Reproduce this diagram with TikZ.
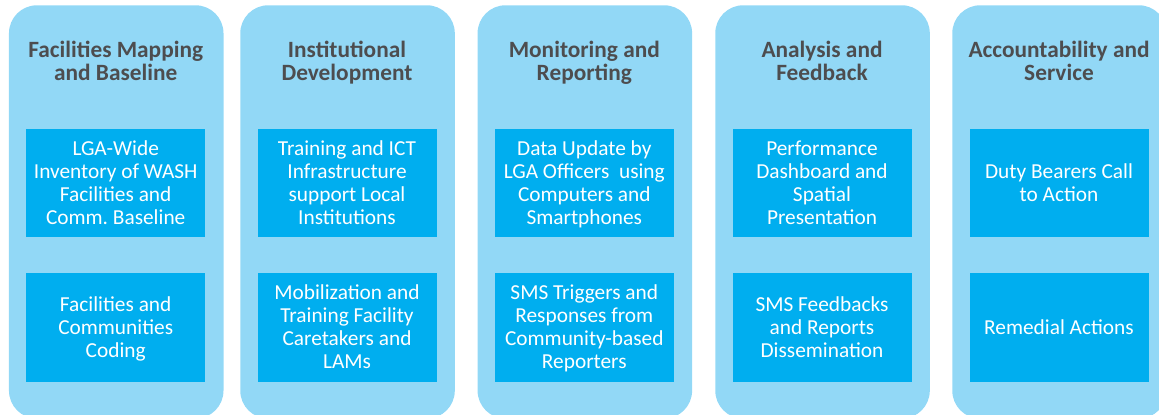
\documentclass[tikz,border=0pt]{standalone}
\usepackage{fontspec}
\setmainfont{Carlito}
\usepackage{xcolor}
\usetikzlibrary{positioning}

\definecolor{laneblue}{HTML}{92D8F6}
\definecolor{boxcyan}{HTML}{00AEEF}
\definecolor{headgray}{HTML}{4D4D4F}

\begin{document}
\frenchspacing
\begin{tikzpicture}[
  x=0.75pt, y=-0.75pt,
  lane/.style={fill=laneblue, rounded corners=21pt, anchor=north west,
    minimum width=160.9pt, minimum height=310pt, inner sep=0pt},
  % struts keep every text block the same height, whatever its letters
  head/.style={text=headgray, align=center, font=\fontsize{17.5}{17.25}\selectfont\bfseries,
    execute at begin node=\strut, execute at end node=\strut},
  item/.style={fill=boxcyan, text=white, align=center, inner sep=0pt,
    minimum width=134.25pt, minimum height=81.5pt,
    font=\fontsize{16}{17.25}\selectfont, text depth=0.7pt}
]
  \clip (0,0) rectangle (1159,414);

  % one lane per stage: heading, then two activity boxes
  \foreach \x/\n/\h/\a/\b in {
    8.7/1/{Facilities Mapping\\and Baseline}/{LGA-Wide\\Inventory of WASH\\Facilities and\\Comm. Baseline}/{Facilities and\\Communities\\Coding},
    240/2/{Institutional\\Development}/{Training and ICT\\Infrastructure\\support Local\\Institutions}/{Mobilization and\\Training Facility\\Caretakers and\\LAMs},
    477.3/3/{Monitoring and\\Reporting}/{Data Update by\\LGA Officers\ \ using\\Computers and\\Smartphones}/{SMS Triggers and\\Responses from\\Community-based\\Reporters},
    715/4/{Analysis and\\Feedback}/{Performance\\Dashboard and\\Spatial\\Presentation}/{SMS Feedbacks\\and Reports\\Dissemination},
    952/5/{Accountability and\\Service}/{Duty Bearers Call\\to Action}/{Remedial Actions}}
  {
    \node[lane] (lane\n) at (\x,5) {};
    \node[head] (head\n) at (\x+107,64.5) {\h};
    \node[item] (top\n) at (\x+107,183) {\a};
    \node[item] (bot\n) at (\x+107,327.5) {\b};
  }
\end{tikzpicture}
\end{document}
